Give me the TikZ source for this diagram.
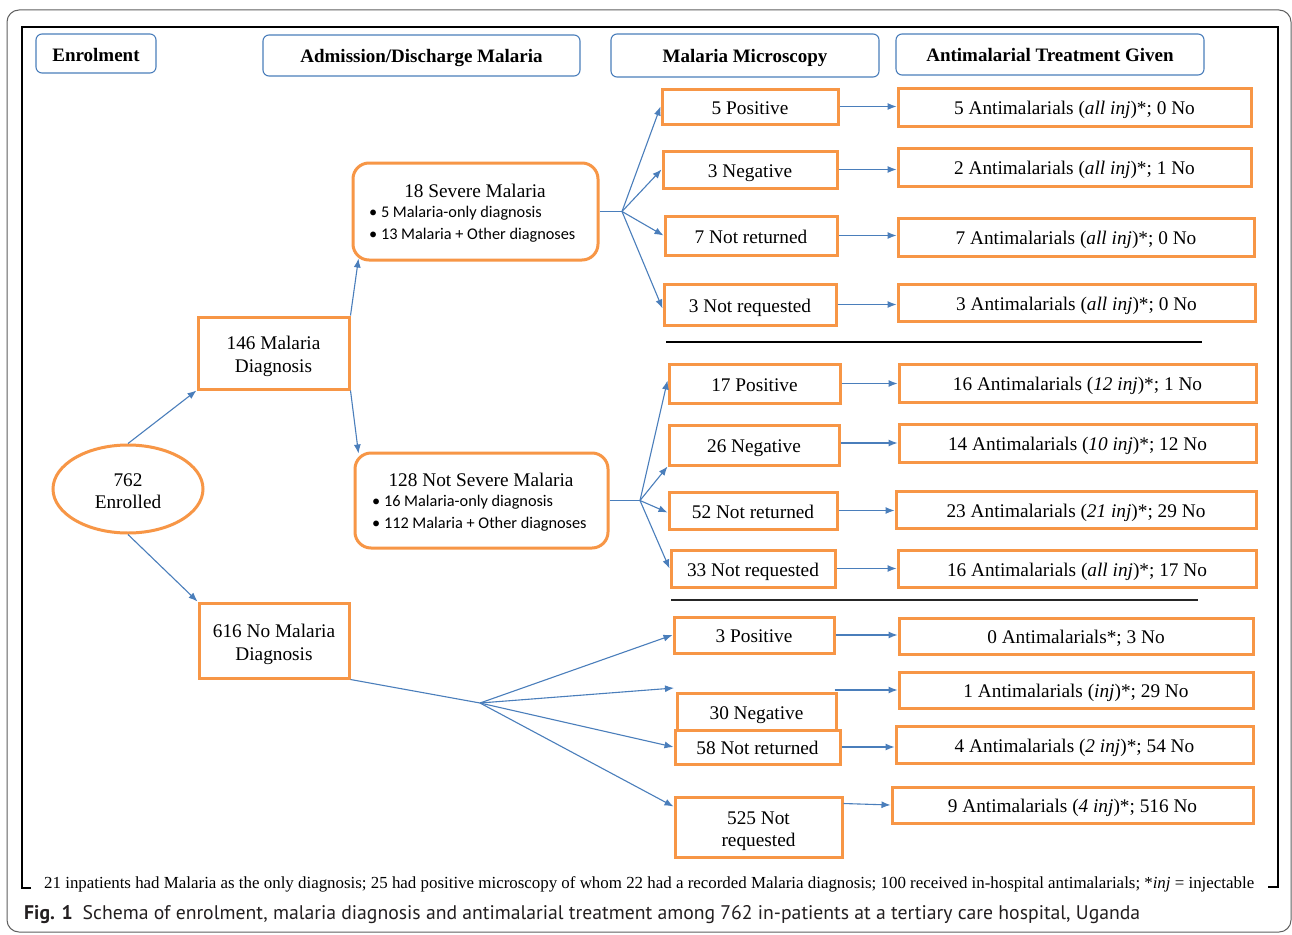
\documentclass[tikz,border=0pt]{standalone}
\usepackage{fontspec}
\setmainfont{Liberation Serif}
\newfontfamily\bulfont{Carlito}
\newfontfamily\capfont{PT Sans}
\usetikzlibrary{arrows.meta,calc,shapes.geometric}
\definecolor{obox}{HTML}{F79646}
\definecolor{lblue}{HTML}{4A7EBB}
\definecolor{capgray}{HTML}{231F20}
\begin{document}
\begin{tikzpicture}[x=1pt,y=-1pt,
  hdr/.style={draw=lblue, line width=1.1pt, rounded corners=6pt, font=\fontsize{19}{22}\selectfont\bfseries, inner sep=0pt, text height=15pt, text depth=0pt},
  ob/.style={draw=obox, line width=3pt, fill=white, inner sep=0pt, font=\fontsize{19.3}{22.5}\selectfont, text height=15pt, text depth=0pt},
  orr/.style={ob, rounded corners=16pt},
  tx/.style={inner sep=0pt, font=\fontsize{19.3}{22.5}\selectfont},
  ml/.style={inner sep=0pt, align=center, font=\fontsize{19.3}{22.5}\selectfont},
  bul/.style={font=\bulfont\fontsize{16.3}{19}\selectfont, inner sep=0pt, anchor=west},
  arr/.style={draw=lblue, line width=1.1pt, -{Latex[length=9pt,width=7pt]}},
  ln/.style={draw=lblue, line width=1.1pt},
  sep/.style={draw=black, line width=2pt},
]
\useasboundingbox (0,0) rectangle (1292,934);
\fill[white] (0,0) rectangle (1292,934);

% frames
\draw[gray!75!black, line width=1pt, rounded corners=12pt] (7,10) rectangle (1291,932);
\draw[black, line width=2pt] (31,888) -- (22,888) -- (22,27) -- (1278,27) -- (1278,887) -- (1268,887);

% headers
\node[hdr, minimum width=120, minimum height=39] (h1) at (96,53.5) {Enrolment};
\node[hdr, minimum width=317, minimum height=41] (h2) at (421.5,55.5) {Admission/Discharge Malaria};
\node[hdr, minimum width=268, minimum height=43] (h3) at (745,55.5) {Malaria Microscopy};
\node[hdr, minimum width=308, minimum height=41] (h4) at (1050,54.5) {Antimalarial Treatment Given};

% column 1-2
\node[ob, ellipse, minimum width=150, minimum height=88] (en) at (128,489) {};
\node[ml] (ent) at (128,491) {762\\Enrolled};
\node[ob, minimum width=151, minimum height=72] (md) at (273.5,353) {};
\node[ml] (mdt) at (273.5,356.5) {146 Malaria\\Diagnosis};
\node[ob, minimum width=150, minimum height=75] (nm) at (274,640.5) {};
\node[ml] (nmt) at (274,644.5) {616 No Malaria\\Diagnosis};

\node[orr, minimum width=245, minimum height=97] (sv) at (475.5,211.5) {};
\node[tx] (svt) at (475,191) {18 Severe Malaria};
\node[bul] (sv1) at (369,213.5) {• 5 Malaria-only diagnosis};
\node[bul] (sv2) at (369,235.5) {• 13 Malaria + Other diagnoses};

\node[orr, minimum width=253, minimum height=95] (ns) at (481.5,500.5) {};
\node[tx] (nst) at (481,480) {128 Not Severe Malaria};
\node[bul] (ns1) at (372,502.5) {• 16 Malaria-only diagnosis};
\node[bul] (ns2) at (372,524.5) {• 112 Malaria + Other diagnoses};

% microscopy group 1
\node[ob, minimum width=176, minimum height=35] (p1) at (750,106.5) {5 Positive};
\node[ob, minimum width=174, minimum height=37] (n1) at (750,169.5) {3 Negative};
\node[ob, minimum width=172, minimum height=39] (r1) at (751,235.5) {7 Not returned};
\node[ob, minimum width=172, minimum height=41] (q1) at (750,304.5) {3 Not requested};
% treatment group 1
\node[ob, minimum width=353, minimum height=38] (tp1) at (1074.5,107) {5 Antimalarials (\textit{all inj})*; 0 No};
\node[ob, minimum width=353, minimum height=38] (tn1) at (1074.5,167) {2 Antimalarials (\textit{all inj})*; 1 No};
\node[ob, minimum width=356, minimum height=38] (tr1) at (1076,237) {7 Antimalarials (\textit{all inj})*; 0 No};
\node[ob, minimum width=357, minimum height=37] (tq1) at (1076.5,302.5) {3 Antimalarials (\textit{all inj})*; 0 No};

% microscopy group 2
\node[ob, minimum width=171, minimum height=39] (p2) at (754.5,383.5) {17 Positive};
\node[ob, minimum width=170, minimum height=40] (n2) at (754,445) {26 Negative};
\node[ob, minimum width=168, minimum height=37] (r2) at (753,510.5) {52 Not returned};
\node[ob, minimum width=164, minimum height=37] (q2) at (753,568.5) {33 Not requested};
\node[ob, minimum width=357, minimum height=38] (tp2) at (1077.5,383) {16 Antimalarials (\textit{12 inj})*; 1 No};
\node[ob, minimum width=357, minimum height=38] (tn2) at (1077.5,443) {14 Antimalarials (\textit{10 inj})*; 12 No};
\node[ob, minimum width=360, minimum height=37] (tr2) at (1076,509.5) {23 Antimalarials (\textit{21 inj})*; 29 No};
\node[ob, minimum width=358, minimum height=37] (tq2) at (1077,568.5) {16 Antimalarials (\textit{all inj})*; 17 No};

% microscopy group 3
\node[ob, minimum width=160, minimum height=36] (p3) at (754,635) {3 Positive};
\node[ob, minimum width=159, minimum height=37] (n3) at (756.5,711.5) {30 Negative};
\node[ob, minimum width=165, minimum height=34] (r3) at (757.5,747) {58 Not returned};
\node[ob, minimum width=167, minimum height=60] (q3) at (758.5,827) {};
\node[ml] (q3t) at (758.5,831) {525 Not\\requested};
\node[ob, minimum width=354, minimum height=36] (tp3) at (1076,636) {0 Antimalarials*; 3 No};
\node[ob, minimum width=354, minimum height=36] (tn3) at (1076,690) {1 Antimalarials (\textit{inj})*; 29 No};
\node[ob, minimum width=357, minimum height=37] (tr3) at (1074.5,744.5) {4 Antimalarials (\textit{2 inj})*; 54 No};
\node[ob, minimum width=361, minimum height=36] (tq3) at (1072.5,805) {9 Antimalarials (\textit{4 inj})*; 516 No};

% separators
\coordinate (s1a) at (666,342); \coordinate (s1b) at (1202,342);
\coordinate (s2a) at (671,600); \coordinate (s2b) at (1198,600);
\draw[sep] (s1a) -- (s1b);
\draw[sep, line width=1.5pt, draw=black!85] (s2a) -- (s2b);

% fan points
\coordinate (f1) at (622,211.5);
\coordinate (f2) at (640,500.5);
\coordinate (f3) at (480,703);
\coordinate (c3a) at (674,688);
\coordinate (c3b) at (834.5,690);

% connectors columns 1-2
\draw[arr] (en.north) -- (md.south west);
\draw[arr] (en.south) -- (nm.north west);
\draw[arr] (md.north east) -- ($(sv.south west)+(7,-3)$);
\draw[arr] (md.south east) -- ($(ns.north west)+(5,2)$);

% group 1
\draw[ln] (sv.east) -- (f1);
\draw[arr] (f1) -- (p1.west);
\draw[arr] (f1) -- (n1.west);
\draw[arr] (f1) -- (r1.west);
\draw[arr] (f1) -- ($(q1.west)+(0,4)$);
\draw[arr] (p1.east) -- (p1.east -| tp1.west);
\draw[arr] (n1.east) -- (n1.east -| tn1.west);
\draw[arr] (r1.east) -- (r1.east -| tr1.west);
\draw[arr] (q1.east) -- (q1.east -| tq1.west);

% group 2
\draw[ln] (ns.east) -- (f2);
\draw[arr] (f2) -- ($(p2.west)+(0,-3)$);
\draw[arr] (f2) -- (n2.south west);
\draw[arr] (f2) -- ($(r2.west)+(0,2)$);
\draw[arr] (f2) -- (q2.west);
\draw[arr] (p2.east) -- (p2.east -| tp2.west);
\draw[arr] ($(n2.east)+(0,-2)$) -- ($(n2.east -| tn2.west)+(0,-2)$);
\draw[arr] (r2.east) -- (r2.east -| tr2.west);
\draw[arr] (q2.east) -- (q2.east -| tq2.west);

% group 3
\draw[ln] (nm.south east) -- (f3);
\draw[arr] (f3) -- (p3.west);
\draw[arr] (f3) -- (c3a);
\draw[arr] (f3) -- (r3.west);
\draw[arr] (f3) -- ($(q3.north west)+(0,11)$);
\draw[arr] (p3.east) -- (p3.east -| tp3.west);
\draw[arr] (c3b) -- (tn3.west);
\draw[arr] (r3.east) -- (r3.east -| tr3.west);
\draw[arr] ($(q3.north east)+(0,8)$) -- (tq3.west);

% footer and caption
\node[inner sep=0pt, anchor=west, font=\fontsize{16.9}{20}\selectfont] (foot) at (44,884) {21 inpatients had Malaria as the only diagnosis; 25 had positive microscopy of whom 22 had a recorded Malaria diagnosis; 100 received in-hospital antimalarials; *\textit{inj} = injectable};
\node[inner sep=0pt, anchor=west, text=capgray, font=\capfont\fontsize{19.7}{22}\selectfont] (cap) at (24,915) {\textbf{Fig. 1}\hspace{10pt}Schema of enrolment, malaria diagnosis and antimalarial treatment among 762 in-patients at a tertiary care hospital, Uganda};
\end{tikzpicture}
\end{document}
